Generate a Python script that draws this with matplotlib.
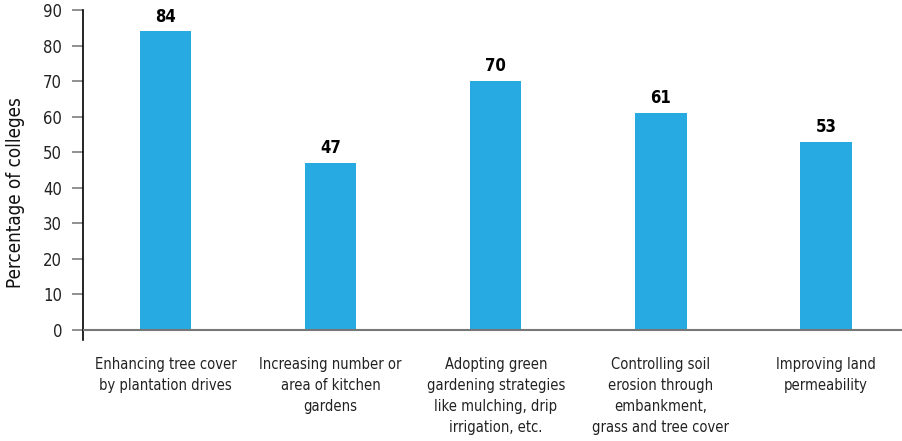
import matplotlib
matplotlib.use("Agg")
import matplotlib.pyplot as plt

# data
categories = [
    "Enhancing tree cover\nby plantation drives",
    "Increasing number or\narea of kitchen\ngardens",
    "Adopting green\ngardening strategies\nlike mulching, drip\nirrigation, etc.",
    "Controlling soil\nerosion through\nembankment,\ngrass and tree cover",
    "Improving land\npermeability",
]
values = [84, 47, 70, 61, 53]
yticks = [0, 10, 20, 30, 40, 50, 60, 70, 80, 90]

plt.rcParams['font.family'] = ['DejaVu Sans']
plt.rcParams['font.stretch'] = 'condensed'

fig = plt.figure(figsize=(9.02, 4.41), dpi=100)
ax = fig.add_axes([83 / 902, 101 / 441, 819 / 902, 330 / 441])

x = list(range(len(categories)))
bars = ax.bar(x, values, width=0.31, color="#27AAE1", zorder=2)

for xi, v in zip(x, values):
    ax.text(xi, v + 1.6, str(v), ha="center", va="bottom",
            fontsize=12, fontweight="bold", color="black")

ax.set_xlim(-0.5, 4.46)
ax.set_ylim(-2.8, 90)
ax.set_yticks(yticks)
ax.tick_params(axis="y", length=8, width=1.3, color="#888888",
               labelsize=12, labelcolor="#222222", pad=7)
ax.set_xticks(x)
ax.set_xticklabels(categories, fontsize=10.5, color="#222222", linespacing=1.52)
ax.tick_params(axis="x", length=0, pad=12)

for side in ["top", "right", "bottom"]:
    ax.spines[side].set_visible(False)
ax.spines["left"].set_linewidth(1.2)
ax.spines["left"].set_color("black")

# zero line
ax.axhline(0, color="#777777", linewidth=1.5, zorder=3)

ax.set_ylabel("Percentage of colleges", fontsize=13.5, color="#111111")
ax.yaxis.set_label_coords(-0.071, 0.448)

fig.savefig("out.png", dpi=100)
